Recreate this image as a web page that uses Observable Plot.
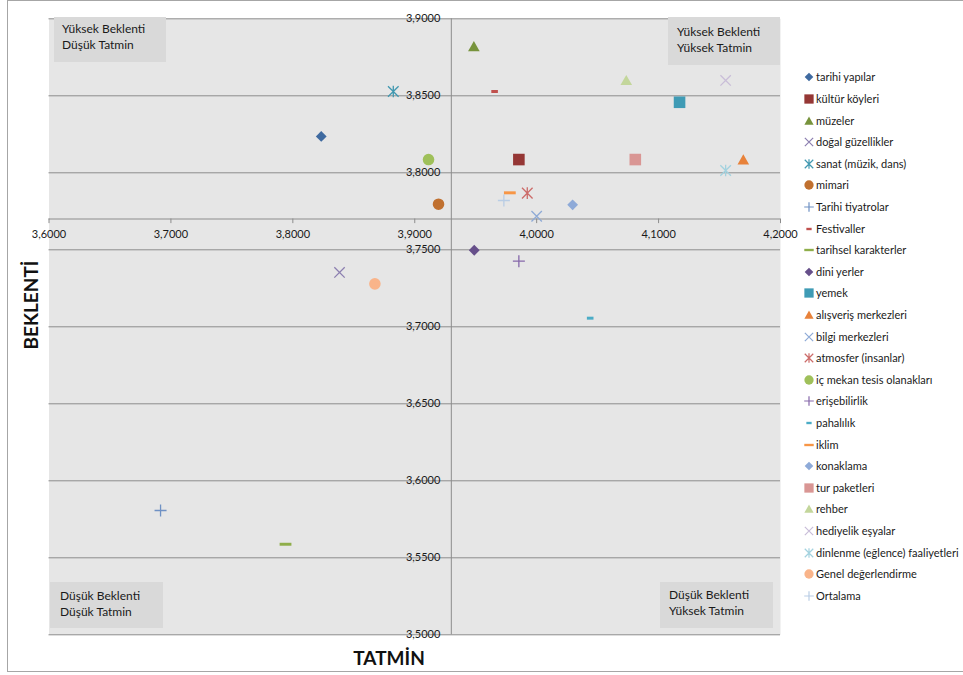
<!DOCTYPE html>
<html><head><meta charset="utf-8">
<script src="https://cdn.jsdelivr.net/npm/d3@7"></script>
<script src="https://cdn.jsdelivr.net/npm/@observablehq/plot@0.6"></script>
<style>
body{margin:0;background:#fff;font-family:Lato,"Open Sans",sans-serif;}
#wrap{position:relative;width:963px;height:675px;overflow:hidden;}
#wrap svg.plot{position:absolute;left:0;top:0;}
.border{position:absolute;left:7px;top:0;width:980px;height:672px;border:1px solid #a6a6a6;box-sizing:border-box;}
.box{position:absolute;background:#d9d9d9;font-size:12px;line-height:16px;color:#1a1a1a;box-sizing:border-box;white-space:nowrap;}
.title{position:absolute;font-weight:bold;font-size:19px;color:#111;white-space:nowrap;}
.leg{position:absolute;font-size:11px;color:#1a1a1a;white-space:nowrap;line-height:14px;}
.leg svg{position:absolute;left:0;top:0;}
</style></head><body><div id="wrap"><div class="border"></div></div>
<script>
// ---- data ----
const categories = ["tarihi yapılar","kültür köyleri","müzeler","doğal güzellikler","sanat (müzik, dans)","mimari","Tarihi tiyatrolar","Festivaller","tarihsel karakterler","dini yerler","yemek","alışveriş merkezleri","bilgi merkezleri","atmosfer (insanlar)","iç mekan tesis olanakları","erişebilirlik","pahalılık","iklim","konaklama","tur paketleri","rehber","hediyelik eşyalar","dinlenme (eğlence) faaliyetleri","Genel değerlendirme","Ortalama"];
const tatmin   = [3.8233,3.9854,3.9485,3.8383,3.8824,3.9195,3.6915,3.9655,3.7940,3.9488,4.1172,4.1695,4.0000,3.9923,3.9113,3.9854,4.0439,3.9780,4.0295,4.0809,4.0735,4.1550,4.1550,3.8673,3.9731];
const beklenti = [3.8236,3.8086,3.8820,3.7353,3.8528,3.7796,3.5807,3.8528,3.5588,3.7497,3.8458,3.8084,3.7718,3.7868,3.8086,3.7426,3.7056,3.7870,3.7792,3.8086,3.8600,3.8600,3.8015,3.7279,3.7820];
const colors   = ["#3f6aa0","#953735","#77933c","#8c7fb0","#4198b0","#c0702f","#6f91c4","#c0504d","#8fae4a","#664f8a","#3f9bb5","#e8823a","#8eaad6","#cc6b69","#9fc05a","#8668aa","#4bacc6","#f79646","#8eaad8","#d99694","#c3d69b","#c9bdd8","#a3d2df","#f9b48a","#b9cde5"];
const markers  = ["diamond","square","triangle","x","asterisk","circle","plus","shortDash","longDash","diamond","square","triangle","x","asterisk","circle","plus","shortDash","longDash","diamond","square","triangle","x","asterisk","circle","plus"];
const xTicks = [3.6,3.7,3.8,3.9,4.0,4.1,4.2];
const yTicks = [3.5,3.55,3.6,3.65,3.7,3.75,3.8,3.85,3.9];
const xCross = 3.93, yCross = 3.77;
const quadrants = [
  {text:["Yüksek Beklenti","Düşük Tatmin"], left:54, top:17, w:112, h:45, pl:8, pt:4},
  {text:["Yüksek Beklenti","Yüksek Tatmin"], left:668, top:17, w:112, h:48, pl:9, pt:7},
  {text:["Düşük Beklenti","Düşük Tatmin"], left:50, top:582, w:113, h:46, pl:10, pt:6},
  {text:["Düşük Beklenti","Yüksek Tatmin"], left:660, top:582, w:113, h:46, pl:9, pt:5}
];

// ---- symbols ----
const rad = s => Math.sqrt(s/Math.PI);
const sym = {
  diamond:{draw(c,s){const r=rad(s);c.moveTo(0,-r);c.lineTo(r,0);c.lineTo(0,r);c.lineTo(-r,0);c.closePath();}},
  square:{draw(c,s){const r=rad(s);c.rect(-r,-r,2*r,2*r);}},
  triangle:{draw(c,s){const r=rad(s);c.moveTo(0,-r*0.95);c.lineTo(r,r*0.8);c.lineTo(-r,r*0.8);c.closePath();}},
  circle:{draw(c,s){const r=rad(s);c.moveTo(r,0);c.arc(0,0,r,0,2*Math.PI);}},
  x:{draw(c,s){const r=rad(s);c.moveTo(-r,-r);c.lineTo(r,r);c.moveTo(-r,r);c.lineTo(r,-r);}},
  plus:{draw(c,s){const r=rad(s);c.moveTo(-r,0);c.lineTo(r,0);c.moveTo(0,-r);c.lineTo(0,r);}},
  asterisk:{draw(c,s){const r=rad(s);c.moveTo(-r,-r);c.lineTo(r,r);c.moveTo(-r,r);c.lineTo(r,-r);c.moveTo(0,-r*1.1);c.lineTo(0,r*1.1);}},
  shortDash:{draw(c,s){const r=rad(s);c.rect(-r,-r*0.45,2*r,r*0.9);}},
  longDash:{draw(c,s){const r=rad(s);c.rect(-r,-r*0.25,2*r,r*0.5);}}
};
const R = {diamond:5.4,square:5.8,triangle:5.8,circle:5.8,x:5.2,plus:6,asterisk:5.3,shortDash:3.3,longDash:5.9};
const stroked = new Set(["x","plus","asterisk"]);

const rows = categories.map((c,i)=>({cat:c, x:tatmin[i], y:beklenti[i], kind:markers[i]}));
const fmt = d3.formatLocale({decimal:",",thousands:".",grouping:[3],currency:["",""]}).format(".4f");

const dotMarks = Object.keys(sym).map(k => {
  const sub = rows.filter(d=>d.kind===k);
  return stroked.has(k)
    ? Plot.dot(sub,{x:"x",y:"y",stroke:"cat",fill:"none",strokeWidth:1.3,symbol:sym[k],r:R[k]})
    : Plot.dot(sub,{x:"x",y:"y",fill:"cat",stroke:"none",symbol:sym[k],r:R[k]});
});

const chart = Plot.plot({
  width:800, height:660,
  marginLeft:48.5, marginRight:20, marginTop:18.3, marginBottom:25.7,
  style:{background:"transparent", fontFamily:"Lato, 'Open Sans', sans-serif", fontSize:"11px", overflow:"visible"},
  x:{domain:[3.6,4.2], axis:null},
  y:{domain:[3.5,3.9], axis:null},
  color:{type:"ordinal", domain:categories, range:colors},
  marks:[
    Plot.frame({fill:"#e6e6e6", stroke:"none"}),
    Plot.ruleY(yTicks,{stroke:"#8c8c8c", strokeWidth:1}),
    Plot.ruleY([yCross],{stroke:"#8c8c8c", strokeWidth:1}),
    Plot.ruleX([xCross],{stroke:"#8c8c8c", strokeWidth:1}),
    Plot.ruleX(xTicks,{x:d=>d, y1:yCross, y2:yCross-0.003, stroke:"#8c8c8c"}),
    Plot.text(xTicks,{x:d=>d, y:yCross, dy:15, text:d=>fmt(d), fill:"#1a1a1a"}),
    Plot.text(yTicks,{x:xCross, y:d=>d, dx:-11, textAnchor:"end", text:d=>fmt(d), fill:"#1a1a1a"}),
    ...dotMarks
  ]
});
chart.classList.add("plot");
const wrap = document.getElementById("wrap");
wrap.appendChild(chart);

// quadrant boxes
for (const q of quadrants) {
  const d = document.createElement("div");
  d.className = "box";
  Object.assign(d.style,{left:q.left+"px",top:q.top+"px",width:q.w+"px",height:q.h+"px",paddingLeft:q.pl+"px",paddingTop:q.pt+"px"});
  d.innerHTML = q.text.join("<br>");
  wrap.appendChild(d);
}
// axis titles
const ty = document.createElement("div");
ty.className="title"; ty.textContent="BEKLENTİ";
Object.assign(ty.style,{left:"30px",top:"305px",transform:"translate(-50%,-50%) rotate(-90deg)"});
wrap.appendChild(ty);
const tx = document.createElement("div");
tx.className="title"; tx.textContent="TATMİN";
Object.assign(tx.style,{left:"389px",top:"657px",transform:"translate(-50%,-50%)"});
wrap.appendChild(tx);

// legend
categories.forEach((c,i)=>{
  const y = 77.3 + i*21.6;
  const k = markers[i];
  const div = document.createElement("div");
  div.className="leg";
  div.style.left="801px"; div.style.top=(y-7)+"px";
  const p = d3.path();
  const r = R[k]*0.8;
  sym[k].draw(p, r*r*Math.PI);
  const attr = stroked.has(k) ? `fill="none" stroke="${colors[i]}" stroke-width="1.2"` : `fill="${colors[i]}"`;
  div.innerHTML = `<svg width="16" height="14"><g transform="translate(8,7)"><path d="${p.toString()}" ${attr}/></g></svg><span style="padding-left:15px">${c}</span>`;
  wrap.appendChild(div);
});
</script></body></html>
